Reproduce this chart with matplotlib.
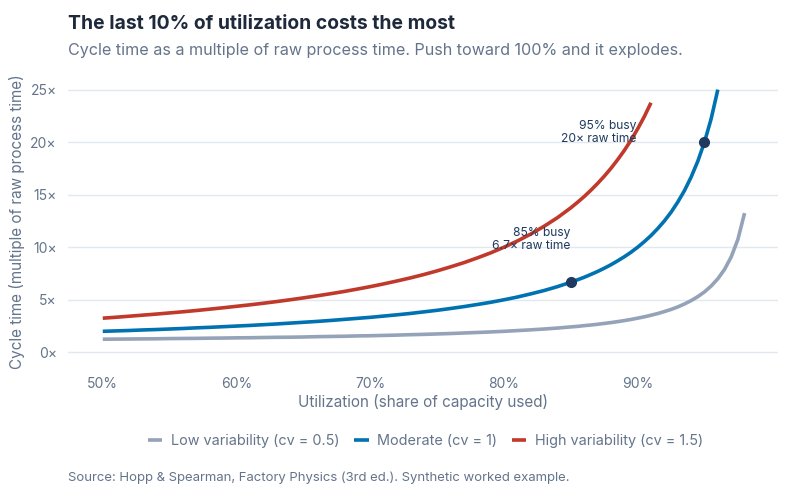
import matplotlib
matplotlib.use("Agg")
import matplotlib.pyplot as plt

plt.rcParams['font.family'] = ['Inter', 'DejaVu Sans']

# utilization (share of capacity): 1% steps, then half-percent steps on the steep part
util = [0.50, 0.51, 0.52, 0.53, 0.54, 0.55, 0.56, 0.57, 0.58, 0.59,
        0.60, 0.61, 0.62, 0.63, 0.64, 0.65, 0.66, 0.67, 0.68, 0.69,
        0.70, 0.71, 0.72, 0.73, 0.74, 0.75, 0.76, 0.77, 0.78, 0.79,
        0.80, 0.81, 0.82, 0.83, 0.84, 0.85,
        0.855, 0.86, 0.865, 0.87, 0.875, 0.88, 0.885, 0.89, 0.895, 0.90,
        0.905, 0.91, 0.915, 0.92, 0.925, 0.93, 0.935, 0.94, 0.945, 0.95,
        0.955, 0.96, 0.965, 0.97, 0.975, 0.98]

# cycle time as multiple of raw process time
low_cv = [1.25, 1.26, 1.27, 1.28, 1.29, 1.31, 1.32, 1.33, 1.35, 1.36,
          1.38, 1.39, 1.41, 1.43, 1.44, 1.46, 1.49, 1.51, 1.53, 1.56,
          1.58, 1.61, 1.64, 1.68, 1.71, 1.75, 1.79, 1.84, 1.89, 1.94,
          2.00, 2.07, 2.14, 2.22, 2.31, 2.42,
          2.47, 2.54, 2.60, 2.67, 2.75, 2.83, 2.92, 3.02, 3.13, 3.25,
          3.38, 3.53, 3.69, 3.88, 4.08, 4.32, 4.60, 4.92, 5.30, 5.75,
          6.31, 7.00, 7.89, 9.08, 10.75, 13.25]
mid_cv = [2.00, 2.04, 2.08, 2.13, 2.17, 2.22, 2.27, 2.33, 2.38, 2.44,
          2.50, 2.56, 2.63, 2.70, 2.78, 2.86, 2.94, 3.03, 3.13, 3.23,
          3.33, 3.45, 3.57, 3.70, 3.85, 4.00, 4.17, 4.35, 4.55, 4.76,
          5.00, 5.26, 5.56, 5.88, 6.25, 6.67,
          6.90, 7.14, 7.41, 7.69, 8.00, 8.33, 8.70, 9.09, 9.52, 10.0,
          10.53, 11.11, 11.77, 12.5, 13.33, 14.29, 15.38, 16.67, 18.18, 20.0,
          22.22, 25.0]
high_cv = [3.25, 3.34, 3.44, 3.54, 3.64, 3.75, 3.86, 3.98, 4.11, 4.24,
           4.38, 4.52, 4.67, 4.83, 5.00, 5.18, 5.37, 5.57, 5.78, 6.01,
           6.25, 6.51, 6.79, 7.08, 7.40, 7.75, 8.13, 8.53, 8.98, 9.46,
           10.0, 10.59, 11.25, 11.99, 12.81, 13.75,
           14.27, 14.82, 15.42, 16.06, 16.75, 17.5, 18.32, 19.2, 20.18, 21.25,
           22.43, 23.75]

series_labels = ["Low variability (cv = 0.5)", "Moderate (cv = 1)", "High variability (cv = 1.5)"]

# highlighted points on the moderate curve
mark_util = [0.85, 0.95]
mark_ct = [6.67, 20.0]
mark_text = ["85% busy\n6.7× raw time", "95% busy\n20× raw time"]

yticks = [0, 5, 10, 15, 20, 25]
xticks = [0.5, 0.6, 0.7, 0.8, 0.9]

DARK = "#1e293b"
MUTED = "#64748b"
colors = ["#94a3b8", "#0072b2", "#c0392b"]

fig = plt.figure(figsize=(8, 5), dpi=100)
ax = fig.add_axes([0.085, 0.268, 0.8875, 0.578])

for ys, c, lab in zip([low_cv, mid_cv, high_cv], colors, series_labels):
    ax.plot(util[:len(ys)], ys, color=c, lw=2.6, label=lab, solid_capstyle='butt')

ax.plot(mark_util, mark_ct, 'o', color="#1e3a5f", ms=7, zorder=5)
ax.annotate(mark_text[0], (mark_util[0], mark_ct[0]), xytext=(0, 31), textcoords='offset points',
            ha='right', va='center', ma='right', fontsize=8.7, color="#1e3a5f", linespacing=1.15)
ax.annotate(mark_text[1], (mark_util[1], mark_ct[1]), xytext=(-49, 7), textcoords='offset points',
            ha='right', va='center', ma='right', fontsize=8.7, color="#1e3a5f", linespacing=1.15)

ax.set_xlim(0.474, 1.005)
ax.set_ylim(-1.3, 26.2)
ax.set_xticks(xticks)
ax.set_xticklabels([f"{int(round(x * 100))}%" for x in xticks])
ax.set_yticks(yticks)
ax.set_yticklabels([f"{y}×" for y in yticks])
ax.tick_params(length=0, labelsize=10, labelcolor=MUTED, pad=8)
ax.grid(axis='y', color="#e2e8f0", lw=1)
ax.set_axisbelow(True)
for s in ax.spines.values():
    s.set_visible(False)

ax.set_xlabel("Utilization (share of capacity used)", fontsize=11, color=MUTED, labelpad=2)
ax.set_ylabel("Cycle time (multiple of raw process time)", fontsize=11, color=MUTED, labelpad=4)

fig.text(0.085, 0.952, "The last 10% of utilization costs the most", fontsize=13.9, fontweight='bold',
         color=DARK, va='center')
fig.text(0.085, 0.9, "Cycle time as a multiple of raw process time. Push toward 100% and it explodes.",
         fontsize=11.6, color=MUTED, va='center')
fig.text(0.085, 0.044, "Source: Hopp & Spearman, Factory Physics (3rd ed.). Synthetic worked example.",
         fontsize=9.45, color=MUTED, va='center')

leg = fig.legend(loc='center', bbox_to_anchor=(0.532, 0.118), ncol=3, frameon=False,
                 handlelength=1.0, handletextpad=0.6, columnspacing=1.0, fontsize=10.4)
for t in leg.get_texts():
    t.set_color(MUTED)

fig.savefig("out.png", dpi=100)
